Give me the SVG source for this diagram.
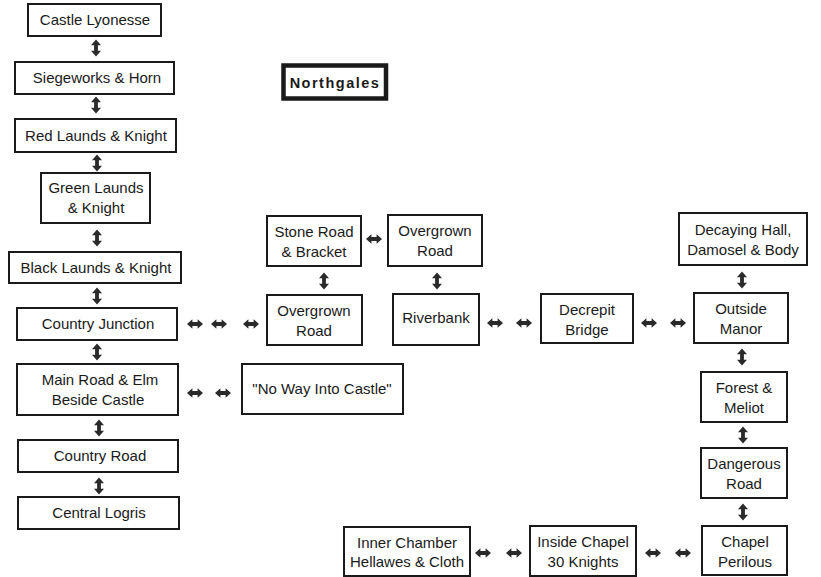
<svg xmlns="http://www.w3.org/2000/svg" xmlns:xlink="http://www.w3.org/1999/xlink" width="821" height="577" viewBox="0 0 821 577">
<style>
.box{fill:#fff;stroke:#1a1a1a;stroke-width:2}
.t{font-family:"Liberation Sans",Arial,Helvetica,sans-serif;font-size:15px;fill:#1a1a1a;text-anchor:middle}
.nb{fill:#fff;stroke:#1a1a1a;stroke-width:4.5}
.nt{font-family:"Liberation Sans",Arial,Helvetica,sans-serif;font-size:14.5px;font-weight:bold;letter-spacing:1.5px;fill:#1a1a1a;text-anchor:middle}
.ar{fill:#2a2a2a}
</style>
<defs>
<path id="va" d="M0,-8.5 L5,-2.8 L1.9,-2.8 L1.9,2.8 L5,2.8 L0,8.5 L-5,2.8 L-1.9,2.8 L-1.9,-2.8 L-5,-2.8 Z"/>
<path id="ha" d="M-8,0 L-2.6,-4.8 L-2.6,-1.9 L2.6,-1.9 L2.6,-4.8 L8,0 L2.6,4.8 L2.6,1.9 L-2.6,1.9 L-2.6,4.8 Z"/>
</defs>
<rect width="821" height="577" fill="#fff"/>

<g id="connectors" class="ar">
<use xlink:href="#va" x="96" y="48"/>
<use xlink:href="#va" x="96" y="105"/>
<use xlink:href="#va" x="97" y="163"/>
<use xlink:href="#va" x="97" y="238"/>
<use xlink:href="#va" x="97" y="296"/>
<use xlink:href="#va" x="97" y="352"/>
<use xlink:href="#va" x="99" y="428"/>
<use xlink:href="#va" x="99" y="486"/>
<use xlink:href="#va" x="324" y="281"/>
<use xlink:href="#va" x="437" y="281"/>
<use xlink:href="#va" x="742" y="280"/>
<use xlink:href="#va" x="742" y="357"/>
<use xlink:href="#va" x="743" y="435"/>
<use xlink:href="#va" x="743" y="512"/>
<use xlink:href="#ha" x="195" y="324"/>
<use xlink:href="#ha" x="219" y="324"/>
<use xlink:href="#ha" x="251" y="324"/>
<use xlink:href="#ha" x="195" y="393"/>
<use xlink:href="#ha" x="223" y="393"/>
<use xlink:href="#ha" x="374" y="239"/>
<use xlink:href="#ha" x="495" y="323"/>
<use xlink:href="#ha" x="524" y="323"/>
<use xlink:href="#ha" x="649" y="323"/>
<use xlink:href="#ha" x="678" y="323"/>
<use xlink:href="#ha" x="483" y="553"/>
<use xlink:href="#ha" x="514" y="553"/>
<use xlink:href="#ha" x="653" y="553"/>
<use xlink:href="#ha" x="683" y="553"/>
</g>

<g id="castle-lyonesse"><rect class="box" x="28" y="4" width="133" height="32"/><text class="t" x="95" y="25">Castle Lyonesse</text></g>
<g id="siegeworks"><rect class="box" x="15" y="62" width="159" height="32"/><text class="t" x="97" y="83">Siegeworks &amp; Horn</text></g>
<g id="red-launds"><rect class="box" x="15" y="119" width="161" height="33"/><text class="t" x="96" y="141">Red Launds &amp; Knight</text></g>
<g id="green-launds"><rect class="box" x="41" y="173" width="109" height="50"/><text class="t" x="96" y="193">Green Launds</text><text class="t" x="96" y="213">&amp; Knight</text></g>
<g id="black-launds"><rect class="box" x="9" y="252" width="172" height="31"/><text class="t" x="96" y="273">Black Launds &amp; Knight</text></g>
<g id="country-junction"><rect class="box" x="17" y="308" width="160" height="32"/><text class="t" x="98" y="329">Country Junction</text></g>
<g id="main-road"><rect class="box" x="17" y="364" width="161" height="51"/><text class="t" x="100" y="385">Main Road &amp; Elm</text><text class="t" x="98" y="405">Beside Castle</text></g>
<g id="country-road"><rect class="box" x="18" y="440" width="160" height="32"/><text class="t" x="100" y="461">Country Road</text></g>
<g id="central-logris"><rect class="box" x="18" y="497" width="161" height="32"/><text class="t" x="99" y="518">Central Logris</text></g>

<g id="northgales"><rect class="nb" x="283.5" y="65.5" width="102.5" height="33"/><text class="nt" x="335" y="88">Northgales</text></g>

<g id="stone-road"><rect class="box" x="267" y="216" width="94" height="50"/><text class="t" x="314" y="237">Stone Road</text><text class="t" x="314" y="257">&amp; Bracket</text></g>
<g id="overgrown-road-upper"><rect class="box" x="388" y="215" width="94" height="51"/><text class="t" x="435" y="236">Overgrown</text><text class="t" x="435" y="256">Road</text></g>
<g id="overgrown-road-lower"><rect class="box" x="267" y="295" width="95" height="50"/><text class="t" x="314" y="316">Overgrown</text><text class="t" x="314" y="336">Road</text></g>
<g id="riverbank"><rect class="box" x="393" y="294" width="86" height="51"/><text class="t" x="436" y="323">Riverbank</text></g>
<g id="decrepit-bridge"><rect class="box" x="541" y="294" width="92" height="49"/><text class="t" x="587" y="315">Decrepit</text><text class="t" x="587" y="335">Bridge</text></g>
<g id="decaying-hall"><rect class="box" x="679" y="213" width="128" height="52"/><text class="t" x="743" y="235">Decaying Hall,</text><text class="t" x="743" y="255">Damosel &amp; Body</text></g>
<g id="outside-manor"><rect class="box" x="694" y="293" width="94" height="50"/><text class="t" x="741" y="314">Outside</text><text class="t" x="741" y="334">Manor</text></g>
<g id="forest-meliot"><rect class="box" x="701" y="372" width="86" height="50"/><text class="t" x="744" y="393">Forest &amp;</text><text class="t" x="744" y="413">Meliot</text></g>
<g id="dangerous-road"><rect class="box" x="701" y="448" width="86" height="50"/><text class="t" x="744" y="469">Dangerous</text><text class="t" x="744" y="489">Road</text></g>
<g id="chapel-perilous"><rect class="box" x="702" y="526" width="85" height="49"/><text class="t" x="745" y="547">Chapel</text><text class="t" x="745" y="567">Perilous</text></g>
<g id="inside-chapel"><rect class="box" x="530" y="526" width="106" height="50"/><text class="t" x="583" y="547">Inside Chapel</text><text class="t" x="583" y="567">30 Knights</text></g>
<g id="inner-chamber"><rect class="box" x="344" y="527" width="126" height="49"/><text class="t" x="407" y="548">Inner Chamber</text><text class="t" x="407" y="567" textLength="114" lengthAdjust="spacingAndGlyphs">Hellawes &amp; Cloth</text></g>
<g id="no-way"><rect class="box" x="242" y="364" width="161" height="50"/><text class="t" x="322" y="394">"No Way Into Castle"</text></g>
</svg>
